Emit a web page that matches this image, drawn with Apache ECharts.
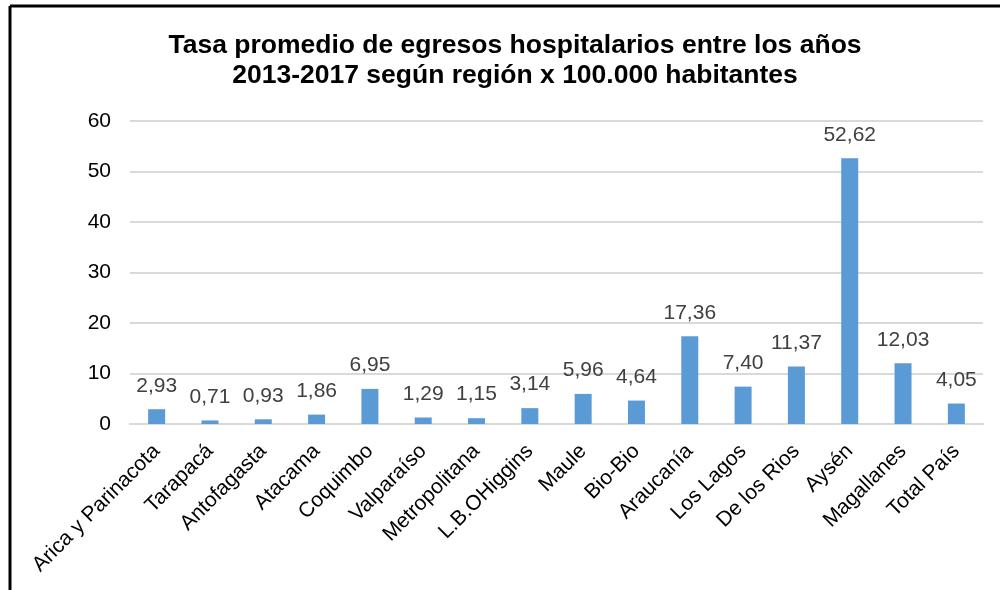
<!DOCTYPE html>
<html>
<head>
<meta charset="UTF-8">
<title>Tasa promedio de egresos hospitalarios</title>
<script src="https://cdn.jsdelivr.net/npm/echarts@6/dist/echarts.min.js"></script>
<style>
  html, body { margin: 0; padding: 0; width: 100%; height: 100%; background: #fff; overflow: hidden; }
  #main { width: 1000px; height: 590px; }
</style>
</head>
<body>
<div id="main"></div>
<script>
var regiones = ['Arica y Parinacota', 'Tarapacá', 'Antofagasta', 'Atacama', 'Coquimbo',
  'Valparaíso', 'Metropolitana', 'L.B.OHiggins', 'Maule', 'Bio-Bio', 'Araucanía',
  'Los Lagos', 'De los Rios', 'Aysén', 'Magallanes', 'Total País'];
var tasas = [2.93, 0.71, 0.93, 1.86, 6.95, 1.29, 1.15, 3.14, 5.96, 4.64, 17.36,
  7.40, 11.37, 52.62, 12.03, 4.05];
var yTicks = [0, 10, 20, 30, 40, 50, 60];

var chart = echarts.init(document.getElementById('main'));
var font = 'Liberation Sans, Arial, sans-serif';

var option = {
  animation: false,
  title: {
    text: 'Tasa promedio de egresos hospitalarios entre los años\n2013-2017 según región x 100.000 habitantes',
    left: 510,
    textAlign: 'center',
    top: 26,
    textStyle: {
      fontFamily: font,
      fontSize: 26.5,
      fontWeight: 'bold',
      color: '#000',
      lineHeight: 30
    }
  },
  graphic: [
    { type: 'line', shape: { x1: 10, y1: 6, x2: 1000, y2: 6 }, style: { stroke: '#000', lineWidth: 3 } },
    { type: 'line', shape: { x1: 10, y1: 6, x2: 10, y2: 590 }, style: { stroke: '#000', lineWidth: 3 } }
  ],
  grid: { left: 130, right: 17, top: 121, bottom: 166 },
  xAxis: {
    type: 'category',
    data: regiones,
    axisLine: { lineStyle: { color: '#d9d9d9', width: 2 } },
    axisTick: { show: false },
    axisLabel: {
      interval: 0,
      rotate: 45,
      margin: 24,
      fontFamily: font,
      fontSize: 21,
      color: '#000'
    }
  },
  yAxis: {
    type: 'value',
    min: yTicks[0],
    max: yTicks[yTicks.length - 1],
    interval: 10,
    axisLine: { show: false },
    axisTick: { show: false },
    splitLine: { lineStyle: { color: '#d9d9d9', width: 2 } },
    axisLabel: {
      margin: 19,
      fontFamily: font,
      fontSize: 21,
      color: '#000'
    }
  },
  series: [{
    type: 'bar',
    data: tasas,
    barWidth: 17,
    itemStyle: { color: '#5b9bd5' },
    label: {
      show: true,
      position: 'top',
      distance: 13,
      fontFamily: font,
      fontSize: 21,
      color: '#404040',
      formatter: function (p) { return p.value.toFixed(2).replace('.', ','); }
    }
  }]
};
chart.setOption(option);
</script>
</body>
</html>
